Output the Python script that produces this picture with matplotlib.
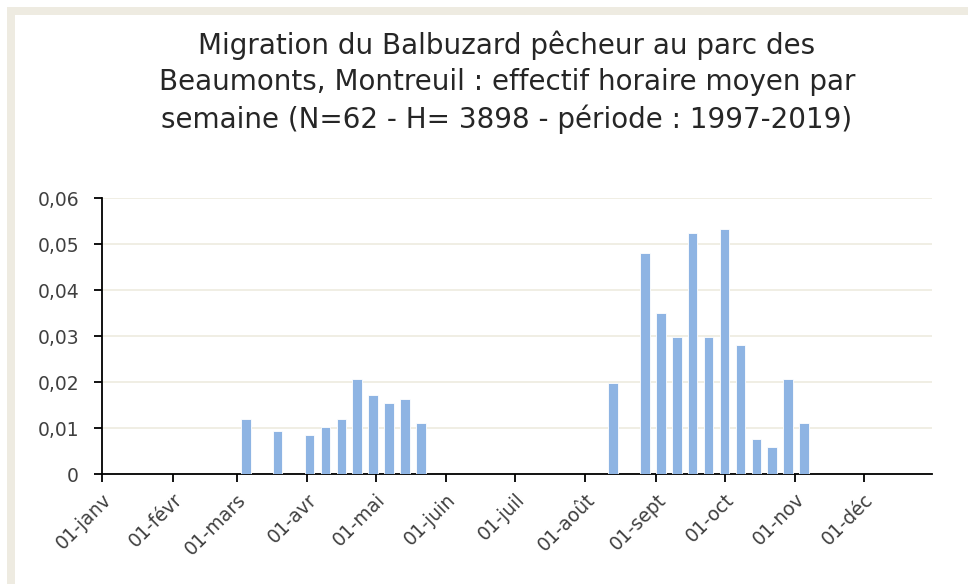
import matplotlib
matplotlib.use("Agg")
import matplotlib.pyplot as plt
import matplotlib.dates as mdates
from matplotlib.patches import Rectangle
import datetime as dt

plt.rcParams['font.family'] = ['DejaVu Sans']

# Weekly data (week index from 1 Jan, one bar per week)
week_index = [9, 11, 13, 14, 15, 16, 17, 18, 19, 20,
              32, 34, 35, 36, 37, 38, 39, 40, 41, 42, 43, 44]
values = [0.012, 0.0093, 0.0085, 0.0102, 0.012, 0.0207, 0.0172, 0.0154, 0.0163, 0.0111,
          0.0198, 0.048, 0.035, 0.0298, 0.0524, 0.0298, 0.0533, 0.028, 0.0076, 0.0059, 0.0207, 0.0111]
month_labels = ["01-janv", "01-févr", "01-mars", "01-avr", "01-mai", "01-juin",
                "01-juil", "01-août", "01-sept", "01-oct", "01-nov", "01-déc"]
y_ticks = [0, 0.01, 0.02, 0.03, 0.04, 0.05, 0.06]
y_labels = ["0", "0,01", "0,02", "0,03", "0,04", "0,05", "0,06"]
title = ("Migration du Balbuzard pêcheur au parc des\n"
         "Beaumonts, Montreuil : effectif horaire moyen par\n"
         "semaine (N=62 - H= 3898 - période : 1997-2019)")

year = 2019
start = dt.date(year, 1, 1)
dates = [start + dt.timedelta(days=7 * k) for k in week_index]
month_starts = [dt.date(year, m, 1) for m in range(1, 13)]

fig = plt.figure(figsize=(9.68, 5.84), dpi=100)
W, H = 968, 584
ax = fig.add_axes([102 / W, 1 - 474 / H, (932 - 102) / W, (474 - 198) / H])

ax.bar(mdates.date2num(dates), values, width=4.3, color="#8EB4E3",
       edgecolor="white", linewidth=0.6, zorder=3)

ax.set_xlim(mdates.date2num(start), mdates.date2num(dt.date(year, 12, 31)))
ax.set_ylim(0, 0.06)
ax.set_yticks(y_ticks)
ax.set_yticklabels(y_labels)
ax.set_xticks(mdates.date2num(month_starts))
ax.set_xticklabels(month_labels, rotation=45, ha="right", va="top",
                   rotation_mode="anchor")

ax.grid(axis="y", color="#EEEBDF", linewidth=1.2, zorder=0)
ax.set_axisbelow(True)
for s in ["top", "right"]:
    ax.spines[s].set_visible(False)
for s in ["left", "bottom"]:
    ax.spines[s].set_color("#000000")
    ax.spines[s].set_linewidth(1.3)
ax.tick_params(axis="both", which="major", direction="out", length=5.5, width=1.3,
               color="#000000", labelcolor="#404040", labelsize=13.5)
ax.tick_params(axis="x", pad=6)
ax.tick_params(axis="y", pad=11)

fig.text(507 / W, 1 - 82 / H, title, ha="center", va="center", fontsize=20,
         color="#262626", linespacing=1.36)

# Beige frame (top and left edges of the chart border)
fig.patches.append(Rectangle((7 / W, 0), 8 / W, (H - 7) / H, transform=fig.transFigure,
                             facecolor="#EEEBE1", edgecolor="none", zorder=0))
fig.patches.append(Rectangle((7 / W, 1 - 15 / H), (W - 7) / W, 8 / H, transform=fig.transFigure,
                             facecolor="#EEEBE1", edgecolor="none", zorder=0))

fig.savefig("out.png", dpi=100, facecolor="white")
